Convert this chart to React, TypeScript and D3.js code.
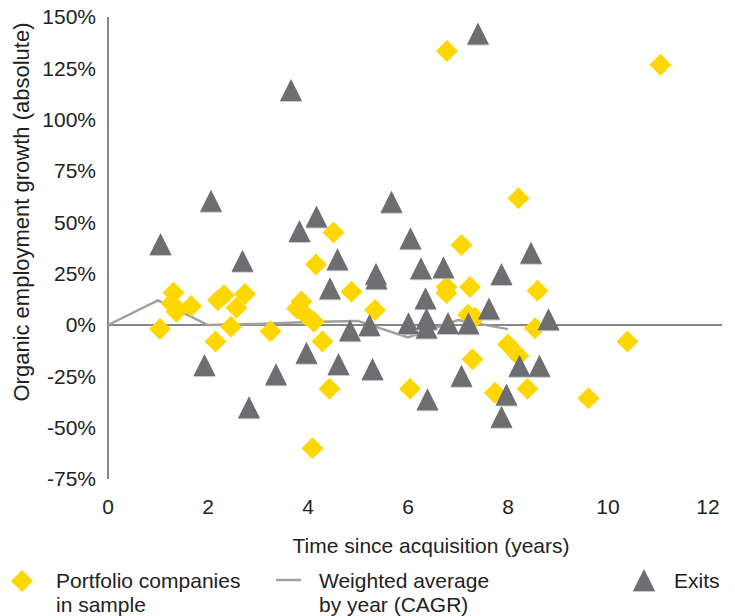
import React from "react";
import * as d3 from "d3";

// Portfolio companies in sample: [years since acquisition, organic employment growth %]
const portfolioX = [1.04, 1.31, 1.27, 1.37, 1.66, 2.15, 2.2, 2.32, 2.46, 2.57, 2.74, 3.25, 3.87, 3.78, 3.97, 4.12, 4.16, 4.29, 4.43, 4.09, 4.51, 4.87, 5.34, 6.04, 6.77, 6.77, 6.78, 7.07, 7.2, 7.34, 7.24, 7.29, 7.74, 8.0, 8.21, 8.21, 8.39, 8.54, 8.59, 9.61, 10.39, 11.05];
const portfolioY = [-2, 15.7, 10.6, 6.5, 9.3, -8, 12, 14.5, -0.8, 8.4, 15.1, -3, 11.4, 8, 4.5, 1.6, 29.5, -8, -31, -60, 45, 16.2, 7.3, -31, 18.5, 15.6, 133.5, 39, 5, 3.5, 18.5, -16.7, -33, -9.5, -15, 61.7, -31, -1.6, 16.7, -35.7, -8, 126.7];

// Exits
const exitsX = [1.05, 1.93, 2.06, 2.69, 2.82, 3.36, 3.66, 3.83, 3.97, 4.17, 4.44, 4.59, 4.61, 4.84, 5.23, 5.29, 5.36, 5.37, 5.67, 6.01, 6.05, 6.26, 6.35, 6.37, 6.37, 6.39, 6.71, 6.8, 7.07, 7.21, 7.4, 7.62, 7.87, 7.87, 7.97, 8.23, 8.46, 8.63, 8.81];
const exitsY = [39.5, -19.5, 60.5, 31.3, -40, -24, 114.5, 45.8, -13.5, 52.8, 17.9, 32, -19, -2.6, 0, -21.4, 25, 22.8, 60, 0.8, 42.2, 27.6, 13, 3, -1.2, -36.2, 28.1, 1, -24.7, 0.8, 142, 8, 24.8, -44.7, -33.8, -19.8, 35.2, -19.8, 2.8];

// Weighted average by year (CAGR)
const avgYears = [0, 1, 2, 3, 4, 5, 6, 7, 8];
const avgValues = [0, 12, 0, 0.5, 1.5, 2, -6, 2.4, -2];

const yTicks = [-75, -50, -25, 0, 25, 50, 75, 100, 125, 150];
const xTicks = [0, 2, 4, 6, 8, 10, 12];

const DIAMOND = "#FFD700";
const TRI = "#6D6E71";
const AVG = "#A0A0A0";
const AXIS = "#878787";
const FONT = "'Liberation Sans', Arial, sans-serif";
const FS = 21;

export default function App() {
  const x = d3.scaleLinear().domain([0, 12]).range([108, 708]);
  const y = d3.scaleLinear().domain([-75, 150]).range([479, 17]);
  const xEnd = 722;

  const line = d3
    .line<number>()
    .x((_, i) => x(avgYears[i]))
    .y((d) => y(d));

  const diamondPath = d3.symbol().type(d3.symbolSquare).size(242)()!;
  const triPath = d3
    .line<[number, number]>()
    .curve(d3.curveLinearClosed)([
    [0, -11],
    [11, 11],
    [-11, 11],
  ])!;

  return (
    <svg
      width={735}
      height={616}
      style={{ position: "absolute", left: 0, top: 0, background: "#fff" }}
      fontFamily={FONT}
    >
      {/* y axis */}
      <line x1={x(0)} x2={x(0)} y1={y(150)} y2={y(-75)} stroke={AXIS} strokeWidth={2} />
      {yTicks.map((t) => (
        <text key={t} x={96} y={y(t)} dy="0.35em" textAnchor="end" fontSize={FS} fill="#222">
          {(t < 0 ? "-" : "") + Math.abs(t) + "%"}
        </text>
      ))}
      {xTicks.map((t) => (
        <text key={t} x={x(t)} y={514} textAnchor="middle" fontSize={FS} fill="#222">
          {t}
        </text>
      ))}
      <text x={431} y={553} textAnchor="middle" fontSize={FS} fill="#222">
        Time since acquisition (years)
      </text>
      <text
        transform={`translate(29,212) rotate(-90)`}
        textAnchor="middle"
        fontSize={22}
        fill="#222"
      >
        Organic employment growth (absolute)
      </text>

      {/* zero line */}
      <line x1={x(0)} x2={xEnd} y1={y(0)} y2={y(0)} stroke={AXIS} strokeWidth={2} />

      {/* weighted average */}
      <path d={line(avgValues)!} fill="none" stroke={AVG} strokeWidth={2.5} />

      {/* portfolio diamonds */}
      {portfolioX.map((px, i) => (
        <path
          key={"d" + i}
          d={diamondPath}
          transform={`translate(${x(px)},${y(portfolioY[i])}) rotate(45)`}
          fill={DIAMOND}
        />
      ))}

      {/* exits triangles */}
      {exitsX.map((ex, i) => (
        <g key={"t" + i} transform={`translate(${x(ex)},${y(exitsY[i])})`}>
          <path d={triPath} fill="#C8C8C8" transform="translate(0,1)" />
          <path d={triPath} fill={TRI} />
        </g>
      ))}

      {/* legend */}
      <path d={diamondPath} transform="translate(22,581) rotate(45)" fill={DIAMOND} />
      <text x={56} y={588} fontSize={FS} fill="#222">Portfolio companies</text>
      <text x={56} y={612} fontSize={FS} fill="#222">in sample</text>

      <line x1={276} x2={301} y1={580} y2={580} stroke={AVG} strokeWidth={2.5} />
      <text x={319} y={588} fontSize={FS} fill="#222">Weighted average</text>
      <text x={319} y={612} fontSize={FS} fill="#222">by year (CAGR)</text>

      <g transform="translate(644,580)">
        <path d={triPath} fill="#C8C8C8" transform="translate(0,1)" />
        <path d={triPath} fill={TRI} />
      </g>
      <text x={674} y={588} fontSize={FS} fill="#222">Exits</text>
    </svg>
  );
}
